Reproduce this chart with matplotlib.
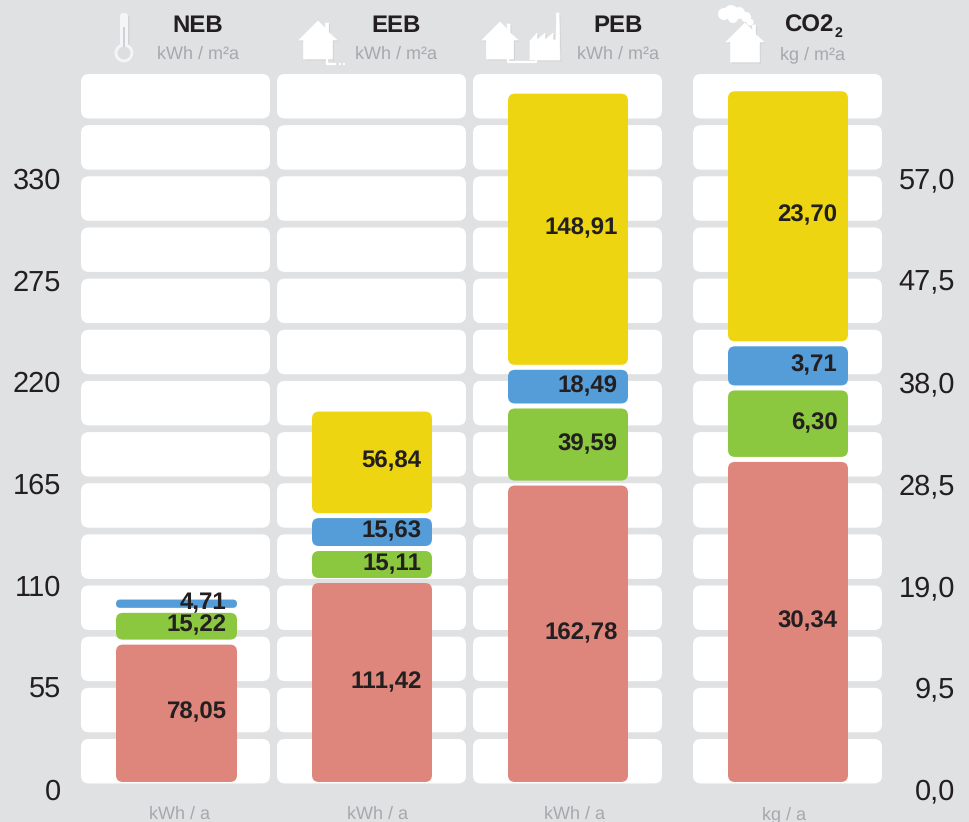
import matplotlib
matplotlib.use("Agg")
import matplotlib.pyplot as plt
import matplotlib.patheffects as pe
from matplotlib.patches import FancyBboxPatch, Polygon, Circle, Rectangle

plt.rcParams['font.family'] = ['Liberation Sans', 'DejaVu Sans']
plt.rcParams['text.hinting'] = 'no_hinting'
plt.rcParams['text.hinting_factor'] = 1

# ---- data ----
panels = ["NEB", "EEB", "PEB", "CO2"]
units_top = ["kWh / m²a", "kWh / m²a", "kWh / m²a", "kg / m²a"]
units_bottom = ["kWh / a", "kWh / a", "kWh / a", "kg / a"]
red_values = [78.05, 111.42, 162.78, 30.34]
green_values = [15.22, 15.11, 39.59, 6.30]
blue_values = [4.71, 15.63, 18.49, 3.71]
yellow_values = [None, 56.84, 148.91, 23.70]
left_ticks = [0, 55, 110, 165, 220, 275, 330]
left_labels = ["0", "55", "110", "165", "220", "275", "330"]
right_ticks = [0.0, 9.5, 19.0, 28.5, 38.0, 47.5, 57.0]
right_labels = ["0,0", "9,5", "19,0", "28,5", "38,0", "47,5", "57,0"]

# ---- style / layout (pixels) ----
W, H = 970, 822
BG = "#dfe1e3"
COL = {"red": "#de867c", "green": "#8bc73f", "blue": "#559dd8", "yellow": "#edd611"}
TXT = "#231f20"
GREY = "#a6a8ab"
cell_x = [(81, 270), (277, 466), (473, 662), (693, 882)]
bar_x = [(116, 237), (312, 432), (508, 628), (728, 848)]
px_per_unit = [1.76, 1.786, 1.821, 10.55]
title_cx = [198, 396, 618, 809]
unit_cx = [198, 396, 618, 813]
bottom_cx = [180, 378, 575, 784]
BASE, TOP = 782, 74
GAP = 5

fig = plt.figure(figsize=(W / 100, H / 100), dpi=100, facecolor=BG)


def rect(x0, y0, x1, y1):
    return [x0 / W, 1 - y1 / H, (x1 - x0) / W, (y1 - y0) / H]


# ---- background decoration axes in pixel units ----
deco = fig.add_axes([0, 0, 1, 1], zorder=0)
deco.set_xlim(0, W)
deco.set_ylim(H, 0)
deco.axis("off")

for x0, x1 in cell_x:
    for r in range(14):
        y0 = 74 + r * 51.15
        deco.add_patch(FancyBboxPatch((x0 + 6, y0 + 6), x1 - x0 - 12, 44.5 - 12,
                                      boxstyle="round,pad=6,rounding_size=8",
                                      fc="white", ec="none"))

shadow = [pe.withSimplePatchShadow(offset=(1, -1), alpha=0.13, shadow_rgbFace="#777777")]


def poly(points):
    p = Polygon(points, closed=True, fc="white", ec="white", lw=0.5, path_effects=shadow)
    deco.add_patch(p)


def house(x0, x1, top, eave, bottom):
    cx = (x0 + x1) / 2
    ins = (x1 - x0) * 0.12
    w = x1 - x0
    poly([(cx, top), (cx + w * 0.2, top + (eave - top) * 0.4), (cx + w * 0.2, top + 2),
          (cx + w * 0.28, top + 2), (cx + w * 0.28, top + (eave - top) * 0.6),
          (x1, eave), (x1 - ins, eave), (x1 - ins, bottom), (x0 + ins, bottom),
          (x0 + ins, eave), (x0, eave)])


def text_line(pts, lw=1.6):
    deco.plot(*zip(*pts), color="white", lw=lw, solid_capstyle="butt")


# thermometer
deco.add_patch(FancyBboxPatch((122, 15), 4, 34, boxstyle="round,pad=2,rounding_size=3",
                              fc="#f4f5f6", ec="none", path_effects=shadow))
deco.add_patch(Rectangle((123, 27), 2, 20, fc="#cfd1d4", ec="none", zorder=3))
deco.add_patch(Circle((124, 53), 8, fc="#dcdee0", ec="#f4f5f6", lw=2.2, path_effects=shadow))

# EEB icon
house(299, 337, 21, 40, 59)
text_line([(327.5, 59), (327.5, 64), (336, 64)])
text_line([(339, 64), (341, 64)])
text_line([(343, 64), (345, 64)])

# PEB icon
house(482, 518, 22, 40, 59)
poly([(530, 60), (530, 41), (537, 33), (537, 40), (545, 33), (545, 40), (553, 33), (553, 40),
      (556, 40), (556.5, 13), (559, 13), (560, 60)])
text_line([(508, 59), (508, 62), (536, 62), (536, 60)])

# CO2 icon
house(726, 764, 23, 42, 62)
for cx, cy, rad in [(724, 14, 6), (731, 12, 7), (739, 13, 6), (746, 17, 5), (733, 18, 5),
                    (750, 22, 3.5)]:
    deco.add_patch(Circle((cx, cy), rad, fc="white", ec="none"))

# titles and units
for name, tx, ux, bx, ut, ub in zip(panels, title_cx, unit_cx, bottom_cx, units_top, units_bottom):
    deco.text(tx, 25.5, name, ha="center", va="center", fontsize=17, fontweight="bold", color=TXT)
    deco.text(ux, 54.5, ut, ha="center", va="center", fontsize=13, color=GREY)
    deco.text(bx, 814.5, ub, ha="center", va="center", fontsize=13, color=GREY)
deco.text(835, 33, "2", ha="left", va="center", fontsize=10, fontweight="bold", color=TXT)

# ---- scale axes with the tick labels ----
left = fig.add_axes(rect(68, 178, 890, 789), zorder=1)
left.patch.set_alpha(0)
left.set_xticks([])
left.set_ylim(left_ticks[0], left_ticks[-1])
left.set_yticks(left_ticks, left_labels)
left.tick_params(axis="y", length=0, pad=5, labelsize=21, labelcolor=TXT)
right = left.twinx()
right.patch.set_alpha(0)
right.set_ylim(right_ticks[0], right_ticks[-1])
right.set_yticks(right_ticks, right_labels)
right.tick_params(axis="y", length=0, pad=46.8, labelsize=21, labelcolor=TXT)
for lab in right.get_yticklabels():
    lab.set_ha("right")
for a in (left, right):
    for s in a.spines.values():
        s.set_visible(False)

# ---- stacked bars, one axes per panel ----
for i in range(4):
    x0, x1 = cell_x[i]
    ax = fig.add_axes(rect(x0, TOP, x1, BASE), zorder=2)
    ax.axis("off")
    ax.patch.set_alpha(0)
    scale = px_per_unit[i]
    ax.set_xlim(x0, x1)
    ax.set_ylim(0, (BASE - TOP) / scale)
    bx0, bx1 = bar_x[i]
    bottom = 0.0
    stack = [("red", red_values[i]), ("green", green_values[i]),
             ("blue", blue_values[i]), ("yellow", yellow_values[i])]
    for key, val in stack:
        if val is None:
            continue
        hpx = val * scale
        rad = min(7, hpx / 2)
        pad = rad * 0.999
        ax.add_patch(FancyBboxPatch((bx0 + pad, bottom + pad / scale), bx1 - bx0 - 2 * pad,
                                    val - 2 * pad / scale,
                                    boxstyle=f"round,pad={pad},rounding_size={rad}",
                                    mutation_aspect=1 / scale, fc=COL[key], ec="none"))
        ax.annotate(f"{val:.2f}".replace(".", ","), (bx1, bottom + val / 2),
                    xytext=(-7.5, 0.6), textcoords="offset points", ha="right",
                    va="center", fontsize=17.3, fontweight="bold", color=TXT, zorder=5)
        bottom += val + GAP / scale

fig.savefig("out.png", dpi=100, facecolor=BG)
